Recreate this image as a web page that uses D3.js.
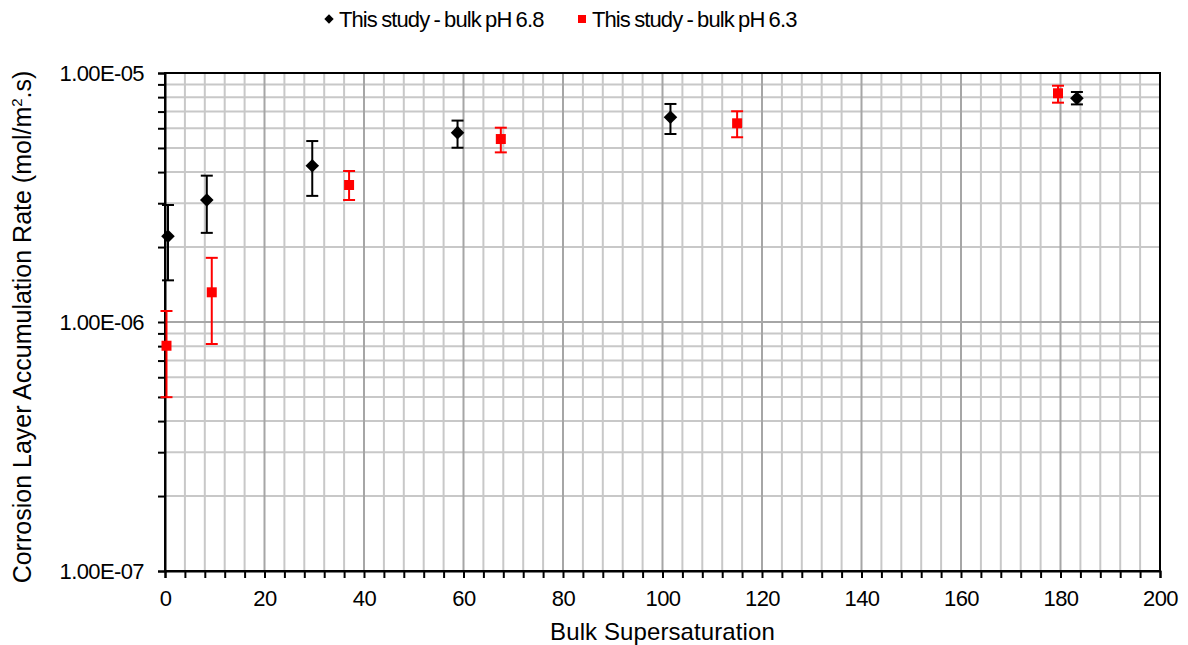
<!DOCTYPE html>
<html>
<head>
<meta charset="utf-8">
<script src="https://cdn.jsdelivr.net/npm/d3@7"></script>
<style>
body { margin: 0; background: #fff; }
text { font-family: "Liberation Sans", Arial, sans-serif; }
</style>
</head>
<body>
<div id="chart"></div>
<script>
var seriesNames = ["This study - bulk pH 6.8", "This study - bulk pH 6.3"];
// pH 6.8
var x68 = [0.6, 8.4, 29.6, 58.8, 101.6, 183.3];
var y68 = [2.21e-6, 3.09e-6, 4.24e-6, 5.76e-6, 6.64e-6, 7.91e-6];
var hi68 = [2.95e-6, 3.87e-6, 5.33e-6, 6.44e-6, 7.51e-6, 8.39e-6];
var lo68 = [1.47e-6, 2.28e-6, 3.21e-6, 5.01e-6, 5.69e-6, 7.48e-6];
// pH 6.3
var x63 = [0.3, 9.4, 37.0, 67.5, 115.0, 179.5];
var y63 = [8.03e-7, 1.316e-6, 3.55e-6, 5.43e-6, 6.28e-6, 8.29e-6];
var hi63 = [1.107e-6, 1.81e-6, 4.04e-6, 6.03e-6, 7.02e-6, 8.89e-6];
var lo63 = [4.99e-7, 8.16e-7, 3.09e-6, 4.8e-6, 5.52e-6, 7.6e-6];

var xTicks = [0, 20, 40, 60, 80, 100, 120, 140, 160, 180, 200];
var yTicks = [1e-7, 1e-6, 1e-5];
var yTickLabels = ["1.00E-07", "1.00E-06", "1.00E-05"];

var width = 1188, height = 645;
var margin = { left: 165, right: 28, top: 73, bottom: 74 };
var font = "'Liberation Sans', Arial, sans-serif";

var svg = d3.select("#chart").append("svg")
    .attr("width", width)
    .attr("height", height);

var x = d3.scaleLinear().domain([0, 200]).range([margin.left, width - margin.right]);
var y = d3.scaleLog().domain([1e-7, 1e-5]).range([height - margin.bottom, margin.top]);

// minor grid values
var xMinor = d3.range(0, 201, 4);
var yMinor = [];
for (var d = -7; d < -5; d++) {
    for (var m = 2; m <= 9; m++) yMinor.push(m * Math.pow(10, d));
}

var grid = svg.append("g");
grid.selectAll(".vmin").data(xMinor.filter(function (v) { return v % 20 != 0; }))
    .enter().append("line")
    .attr("x1", function (v) { return x(v); }).attr("x2", function (v) { return x(v); })
    .attr("y1", y(1e-5)).attr("y2", y(1e-7))
    .attr("stroke", "#c8c8c8").attr("stroke-width", 2);
grid.selectAll(".hmin").data(yMinor)
    .enter().append("line")
    .attr("y1", function (v) { return y(v); }).attr("y2", function (v) { return y(v); })
    .attr("x1", x(0)).attr("x2", x(200))
    .attr("stroke", "#c8c8c8").attr("stroke-width", 2);
grid.selectAll(".vmaj").data(xTicks)
    .enter().append("line")
    .attr("x1", function (v) { return x(v); }).attr("x2", function (v) { return x(v); })
    .attr("y1", y(1e-5)).attr("y2", y(1e-7))
    .attr("stroke", "#a6a6a6").attr("stroke-width", 2);
grid.selectAll(".hmaj").data(yTicks)
    .enter().append("line")
    .attr("y1", function (v) { return y(v); }).attr("y2", function (v) { return y(v); })
    .attr("x1", x(0)).attr("x2", x(200))
    .attr("stroke", "#a6a6a6").attr("stroke-width", 2);

// frame
svg.append("rect")
    .attr("x", x(0)).attr("y", y(1e-5))
    .attr("width", x(200) - x(0)).attr("height", y(1e-7) - y(1e-5))
    .attr("fill", "none").attr("stroke", "#000").attr("stroke-width", 2);

// axes
var xAxis = svg.append("g")
    .attr("transform", "translate(0," + y(1e-7) + ")")
    .call(d3.axisBottom(x).tickValues(xMinor).tickSize(7).tickFormat(function (v) { return v % 20 == 0 ? v : ""; }));
xAxis.attr("font-size", 22).attr("font-family", font);
xAxis.select(".domain").attr("stroke-width", 2);
xAxis.selectAll(".tick line").attr("stroke-width", 2);
xAxis.selectAll(".tick text").attr("y", 14).attr("dy", "0.95em").attr("fill", "#000")
    .attr("letter-spacing", "-0.5px");

var yAxis = svg.append("g")
    .attr("transform", "translate(" + x(0) + ",0)")
    .call(d3.axisLeft(y).tickValues(yTicks.concat(yMinor)).tickSize(7)
        .tickFormat(function (v) { var i = yTicks.indexOf(v); return i >= 0 ? yTickLabels[i] : ""; }));
yAxis.attr("font-size", 22).attr("font-family", font);
yAxis.select(".domain").attr("stroke-width", 2);
yAxis.selectAll(".tick line").attr("stroke-width", 2);
yAxis.selectAll(".tick text").attr("x", -21).attr("fill", "#000")
    .attr("letter-spacing", "-0.6px");

// axis titles
svg.append("text")
    .attr("x", (x(0) + x(200)) / 2).attr("y", 640)
    .attr("text-anchor", "middle").attr("font-size", 24).attr("letter-spacing", "0.1px")
    .text("Bulk Supersaturation");
var yt = svg.append("text")
    .attr("transform", "translate(31,327) rotate(-90)")
    .attr("text-anchor", "middle").attr("font-size", 25).attr("letter-spacing", "0px");
yt.append("tspan").text("Corrosion Layer Accumulation Rate (mol/m");
yt.append("tspan").attr("font-size", 15).attr("dy", -9).text("2");
yt.append("tspan").attr("dy", 9).text(".s)");

// markers: diamond is a square turned 45 degrees
function markerTransform(cx, cy, shape) {
    return "translate(" + cx + "," + cy + ")" + (shape == "diamond" ? " rotate(45)" : "");
}

// error bars + markers
function drawSeries(xs, ys, his, los, color, shape) {
    var g = svg.append("g");
    var idx = d3.range(xs.length);
    g.selectAll(".eb").data(idx).enter().append("line")
        .attr("x1", function (i) { return x(xs[i]); }).attr("x2", function (i) { return x(xs[i]); })
        .attr("y1", function (i) { return y(his[i]); }).attr("y2", function (i) { return y(los[i]); })
        .attr("stroke", color).attr("stroke-width", 2);
    g.selectAll(".capt").data(idx).enter().append("line")
        .attr("x1", function (i) { return x(xs[i]) - 6; }).attr("x2", function (i) { return x(xs[i]) + 6; })
        .attr("y1", function (i) { return y(his[i]); }).attr("y2", function (i) { return y(his[i]); })
        .attr("stroke", color).attr("stroke-width", 2);
    g.selectAll(".capb").data(idx).enter().append("line")
        .attr("x1", function (i) { return x(xs[i]) - 6; }).attr("x2", function (i) { return x(xs[i]) + 6; })
        .attr("y1", function (i) { return y(los[i]); }).attr("y2", function (i) { return y(los[i]); })
        .attr("stroke", color).attr("stroke-width", 2);
    g.selectAll(".pt").data(idx).enter().append("path")
        .attr("transform", function (i) { return markerTransform(x(xs[i]), y(ys[i]), shape); })
        .attr("d", d3.symbol().type(d3.symbolSquare).size(shape == "square" ? 100 : 92))
        .attr("fill", color);
}
drawSeries(x68, y68, hi68, lo68, "#000", "diamond");
drawSeries(x63, y63, hi63, lo63, "#ff0000", "square");

// legend
var legend = svg.append("g");
var legendX = [329, 582];
var legendColors = ["#000", "#ff0000"];
var legendShapes = ["diamond", "square"];
seriesNames.forEach(function (name, i) {
    legend.append("path")
        .attr("transform", markerTransform(legendX[i], 19, legendShapes[i]))
        .attr("d", d3.symbol().type(d3.symbolSquare).size(i == 0 ? 44 : 64))
        .attr("fill", legendColors[i]);
    legend.append("text")
        .attr("x", legendX[i] + 10).attr("y", 27)
        .attr("font-size", 22).attr("letter-spacing", "-0.9px").attr("word-spacing", "-1px")
        .text(name);
});
</script>
</body>
</html>
